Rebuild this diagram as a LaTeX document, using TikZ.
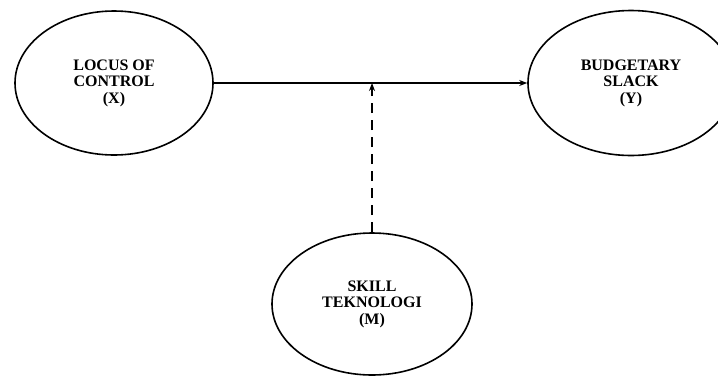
\documentclass[tikz,border=0pt]{standalone}
\usepackage{fontspec}
\setmainfont{Liberation Serif}
\usetikzlibrary{shapes.geometric,arrows.meta}
\begin{document}
\begin{tikzpicture}[x=1pt,y=-1pt,
  varbox/.style={ellipse,draw,line width=1.6pt,inner sep=0pt,align=center,
    font=\fontsize{16}{16.5}\selectfont\bfseries},
  conn/.style={line width=1.5pt,-{Stealth[length=8pt,width=6pt]}}]
\useasboundingbox (0,0) rectangle (718,376);
\begin{scope}
\clip (0,0) rectangle (718,376);
\node[varbox,minimum width=198pt,minimum height=144pt] (X) at (114,83) {LOCUS OF\\CONTROL\\(X)};
\node[varbox,minimum width=206pt,minimum height=145pt] (Y) at (631,83) {BUDGETARY\\SLACK\\(Y)};
\node[varbox,minimum width=200pt,minimum height=142pt] (M) at (372,304) {SKILL\\TEKNOLOGI\\(M)};
\end{scope}
\coordinate (J) at (372,83);
\draw[conn] (X.east) -- (Y.west);
\draw[conn,dashed,dash pattern=on 10pt off 7pt] (M.north) -- (J);
\end{tikzpicture}
\end{document}
